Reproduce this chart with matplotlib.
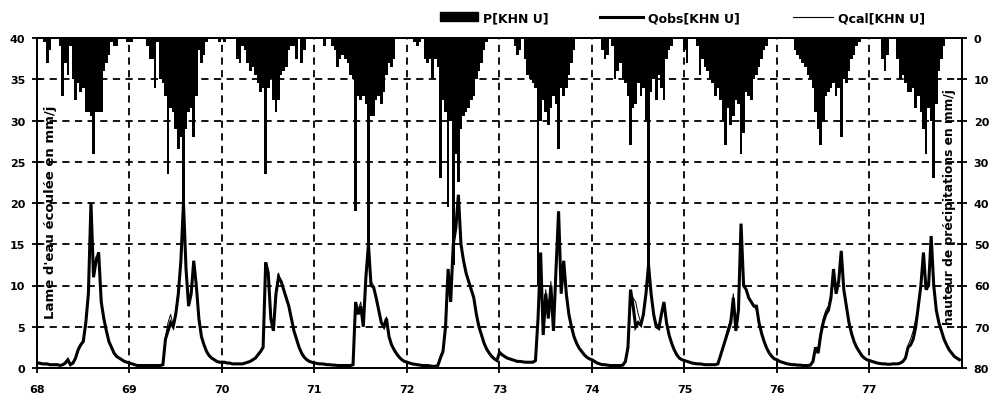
import matplotlib
matplotlib.use('Agg')
import matplotlib.pyplot as plt
import numpy as np
from matplotlib.patches import Patch
from matplotlib.lines import Line2D

plt.rcParams['font.family'] = ['DejaVu Sans']
plt.rcParams['font.weight'] = 'bold'

# dekadal series (36 values per hydrological year), years 68 .. 77
years = list(range(68, 78))
steps_per_year = 36

qobs = [
    # 68
    0.6, 0.6, 0.5, 0.5, 0.5, 0.4, 0.4, 0.4, 0.4, 0.3, 0.4, 0.6, 1.0, 0.4, 0.6, 1.2, 2.2, 2.8,
    3.2, 5.5, 9, 20, 11, 13, 14, 8, 6, 4.5, 3.2, 2.5, 1.8, 1.4, 1.2, 1.0, 0.8, 0.7,
    # 69
    0.6, 0.5, 0.4, 0.3, 0.3, 0.3, 0.3, 0.3, 0.3, 0.3, 0.3, 0.3, 0.3, 0.4, 3.5, 4.5, 5.5, 5.0,
    6.5, 9, 13, 20, 12, 7.5, 9, 13, 10, 6, 3.8, 2.8, 2.0, 1.5, 1.2, 1.0, 0.8, 0.7,
    # 70
    0.7, 0.7, 0.6, 0.6, 0.5, 0.5, 0.5, 0.5, 0.5, 0.6, 0.7, 0.8, 1.0, 1.2, 1.6, 2.0, 2.5, 12.8,
    11.5, 6, 4.5, 9, 11, 10.5, 9.5, 8.5, 7.5, 6, 4.5, 3.5, 2.5, 1.8, 1.3, 1.0, 0.8, 0.7,
    # 71
    0.6, 0.55, 0.5, 0.5, 0.45, 0.4, 0.4, 0.35, 0.35, 0.3, 0.3, 0.3, 0.3, 0.3, 0.3, 0.4, 8, 6.5,
    7.5, 5, 11, 15, 10, 9.8, 8.5, 7, 5.5, 5, 6, 3.8, 2.8, 2.2, 1.7, 1.3, 1.0, 0.8,
    # 72
    0.7, 0.6, 0.5, 0.45, 0.4, 0.35, 0.3, 0.3, 0.3, 0.25, 0.2, 0.2, 0.3, 1.2, 2.0, 5, 12, 8,
    15, 17, 21, 15, 13, 11.5, 10.5, 9.5, 8.5, 6.5, 5, 4, 3.0, 2.3, 1.8, 1.4, 1.1, 0.9,
    # 73
    1.9, 1.6, 1.4, 1.2, 1.1, 1.0, 0.9, 0.8, 0.8, 0.75, 0.7, 0.7, 0.7, 0.7, 0.9, 6, 14, 4,
    9, 6, 10, 4.5, 12, 19, 9, 13, 9, 6.5, 5, 3.8, 3, 2.4, 2.0, 1.6, 1.3, 1.1,
    # 74
    1.0, 0.8, 0.6, 0.5, 0.4, 0.4, 0.35, 0.3, 0.3, 0.3, 0.3, 0.3, 0.35, 0.8, 2.5, 9.5, 7.5, 5,
    5.5, 5.2, 6.5, 9, 12.5, 9, 6.5, 5, 4.8, 6.5, 8, 5.5, 4, 3, 2.2, 1.6, 1.2, 1.0,
    # 75
    0.9, 0.8, 0.7, 0.6, 0.55, 0.5, 0.5, 0.45, 0.4, 0.4, 0.4, 0.4, 0.4, 0.5, 1.5, 2.5, 3.5, 4.5,
    5.5, 8.5, 4.5, 7, 17.5, 10, 9.5, 8.5, 8, 7.5, 7.5, 5.5, 4.2, 3.2, 2.4, 1.8, 1.4, 1.1,
    # 76
    1.0, 0.8, 0.7, 0.6, 0.5, 0.45, 0.4, 0.4, 0.35, 0.35, 0.3, 0.3, 0.3, 0.35, 0.8, 2.5, 1.8, 4,
    5.5, 6.5, 7, 8.5, 12, 9, 10.5, 14.2, 9.5, 7.5, 5.5, 4.2, 3.2, 2.5, 2.0, 1.5, 1.2, 1.0,
    # 77
    0.9, 0.8, 0.7, 0.6, 0.55, 0.5, 0.5, 0.45, 0.45, 0.5, 0.5, 0.5, 0.6, 0.8, 1.2, 2.5, 2.8, 3.5,
    5, 7.5, 10, 14, 9.5, 10, 16, 10, 7, 5.5, 4.5, 3.5, 2.8, 2.2, 1.8, 1.4, 1.2, 1.0,
]

qcal = [
    # 68
    0.5, 0.5, 0.45, 0.4, 0.4, 0.35, 0.35, 0.3, 0.3, 0.3, 0.35, 0.5, 0.9, 0.5, 0.7, 1.3, 2.3, 2.9,
    3.4, 6, 9.5, 19, 12, 13.5, 13, 8.5, 6, 4.6, 3.3, 2.6, 1.9, 1.5, 1.2, 1.0, 0.8, 0.7,
    # 69
    0.6, 0.5, 0.4, 0.35, 0.3, 0.3, 0.3, 0.3, 0.3, 0.3, 0.3, 0.3, 0.3, 0.4, 3.8, 5.5, 6.5, 5.2,
    7, 9.5, 13.5, 19, 12.5, 8, 9.5, 12.5, 9.5, 6, 3.9, 2.9, 2.0, 1.5, 1.2, 1.0, 0.8, 0.7,
    # 70
    0.7, 0.6, 0.6, 0.55, 0.5, 0.5, 0.5, 0.5, 0.5, 0.6, 0.7, 0.8, 1.0, 1.3, 1.6, 2.1, 2.7, 12.5,
    11, 6.5, 5, 9.5, 11.5, 10.5, 9.5, 8.5, 7.5, 6, 4.5, 3.5, 2.5, 1.8, 1.3, 1.0, 0.8, 0.7,
    # 71
    0.6, 0.55, 0.5, 0.5, 0.45, 0.4, 0.4, 0.35, 0.35, 0.3, 0.3, 0.3, 0.3, 0.3, 0.3, 0.5, 7.5, 7,
    8, 5.5, 11.5, 14.5, 10.5, 10, 8.5, 7, 5.5, 5.2, 6.2, 3.8, 2.8, 2.2, 1.7, 1.3, 1.0, 0.8,
    # 72
    0.7, 0.6, 0.5, 0.45, 0.4, 0.35, 0.3, 0.3, 0.3, 0.25, 0.2, 0.2, 0.3, 1.5, 2.2, 5.5, 11, 8.5,
    14.5, 17.5, 20, 15.5, 13, 11.5, 10.5, 9.5, 8.5, 6.5, 5, 4, 3, 2.3, 1.8, 1.4, 1.1, 0.9,
    # 73
    1.9, 1.6, 1.4, 1.2, 1.1, 1.0, 0.9, 0.8, 0.8, 0.75, 0.7, 0.7, 0.7, 0.7, 1.0, 6.5, 13, 5,
    9.5, 6.5, 10.5, 5, 12, 18, 9.5, 12.5, 9, 6.5, 5, 3.8, 3, 2.4, 2.0, 1.6, 1.3, 1.1,
    # 74
    1.0, 0.8, 0.6, 0.5, 0.4, 0.4, 0.35, 0.3, 0.3, 0.3, 0.3, 0.3, 0.35, 1.0, 3, 9, 8.5, 8,
    6.5, 5.5, 6.5, 9, 12, 9, 6.5, 5.5, 5, 6.5, 7.5, 5.5, 4, 3, 2.2, 1.6, 1.2, 1.0,
    # 75
    0.9, 0.8, 0.7, 0.6, 0.55, 0.5, 0.5, 0.45, 0.4, 0.4, 0.4, 0.4, 0.4, 0.5, 1.6, 2.6, 3.8, 5,
    6, 9, 5.5, 7.5, 16.5, 10.5, 9.5, 8.5, 8, 7.5, 7, 5.5, 4.2, 3.2, 2.4, 1.8, 1.4, 1.1,
    # 76
    1.0, 0.8, 0.7, 0.6, 0.5, 0.45, 0.4, 0.4, 0.35, 0.35, 0.3, 0.3, 0.3, 0.4, 0.9, 2.4, 2.5, 4.5,
    6, 7, 7.5, 9, 11.5, 9.5, 10.5, 13.5, 9.5, 7.5, 5.5, 4.2, 3.2, 2.5, 2.0, 1.5, 1.2, 1.0,
    # 77
    0.9, 0.8, 0.7, 0.6, 0.55, 0.5, 0.5, 0.45, 0.45, 0.5, 0.5, 0.5, 0.6, 0.8, 1.3, 2.8, 3.5, 4.5,
    6, 7, 10.5, 13, 10, 10.5, 15, 10.5, 7, 5.5, 4.5, 3.5, 2.8, 2.2, 1.8, 1.4, 1.2, 1.0,
]

precip = [
    # 68
    0, 0, 0, 1, 6, 3, 0, 0, 0, 2, 14, 6, 9, 2, 10, 15, 11, 13,
    12, 18, 18, 19, 28, 18, 18, 18, 8, 6, 4, 1, 2, 2, 0, 0, 0, 1,
    # 69
    1, 1, 0, 0, 0, 0, 0, 2, 5, 5, 12, 1, 10, 11, 14, 33, 17, 18,
    22, 27, 24, 40, 22, 18, 17, 24, 14, 3, 6, 4, 1, 0, 0, 0, 0, 1,
    # 70
    0, 1, 0, 0, 0, 0, 5, 6, 2, 3, 6, 8, 7, 9, 11, 13, 12, 33,
    12, 10, 15, 18, 15, 9, 8, 7, 3, 2, 2, 5, 0, 6, 3, 0, 0, 0,
    # 71
    0, 0, 0, 0, 2, 0, 0, 2, 3, 7, 5, 4, 5, 6, 9, 10, 42, 14,
    15, 14, 16, 50, 19, 19, 15, 14, 16, 13, 9, 6, 7, 5, 0, 0, 0, 0,
    # 72
    0, 0, 0, 1, 2, 1, 0, 5, 6, 5, 10, 5, 7, 34, 15, 18, 41, 20,
    55, 28, 35, 22, 19, 18, 17, 15, 14, 10, 8, 6, 3, 1, 0, 0, 0, 0,
    # 73
    0, 0, 0, 0, 0, 0, 2, 4, 3, 0, 5, 9, 10, 11, 12, 60, 20, 15,
    18, 21, 17, 14, 16, 27, 12, 14, 12, 9, 6, 3, 0, 0, 0, 0, 0, 0,
    # 74
    0, 0, 0, 0, 3, 5, 4, 0, 2, 10, 8, 6, 10, 11, 14, 26, 17, 16,
    11, 14, 12, 20, 58, 13, 10, 15, 9, 12, 15, 5, 3, 2, 0, 0, 0, 0,
    # 75
    3, 6, 0, 0, 0, 2, 9, 5, 7, 8, 10, 11, 14, 12, 15, 20, 26, 17,
    21, 19, 15, 16, 28, 23, 13, 14, 15, 10, 9, 7, 5, 3, 2, 0, 0, 0,
    # 76
    0, 0, 0, 0, 0, 0, 0, 3, 4, 5, 6, 7, 9, 10, 12, 18, 22, 26,
    20, 14, 13, 12, 11, 14, 12, 24, 10, 11, 8, 5, 4, 2, 1, 0, 0, 0,
    # 77
    0, 0, 0, 0, 0, 5, 8, 4, 0, 0, 0, 5, 10, 9, 11, 13, 13, 12,
    17, 14, 18, 22, 28, 17, 20, 34, 16, 8, 5, 2, 0, 0, 0, 0, 0, 0,
]

q_ticks = [0, 5, 10, 15, 20, 25, 30, 35, 40]
p_ticks = [0, 10, 20, 30, 40, 50, 60, 70, 80]
legend_labels = ["P[KHN U]", "Qobs[KHN U]", "Qcal[KHN U]"]

t = years[0] + np.arange(len(qobs)) / steps_per_year

fig = plt.figure(figsize=(9.98, 4.02), dpi=100)
ax = fig.add_axes([37 / 998, 33 / 402, 925 / 998, 330 / 402])
ax2 = ax.twinx()

ax2.bar(t, precip, width=1 / steps_per_year, color='black', linewidth=0)
ax2.set_ylim(80, 0)
ax2.set_yticks(p_ticks)

ax.set_zorder(ax2.get_zorder() + 1)
ax.patch.set_visible(False)
ax.plot(t, qobs, color='black', lw=2.2, solid_joinstyle='miter')
ax.plot(t, qcal, color='black', lw=0.7)

ax.set_xlim(years[0], years[-1] + 1)
ax.set_ylim(0, 40)
ax.set_xticks(years)
ax.set_yticks(q_ticks)
ax.grid(True, color='black', linestyle=(0, (4, 3)), linewidth=1.3)

for a in (ax, ax2):
    for s in a.spines.values():
        s.set_linewidth(1.3)
    a.tick_params(direction='inout', length=7, width=1.3, labelsize=8, pad=5)
ax.tick_params(axis='x', pad=8)

ax.text(0.008, 0.475, "Lame d'eau écoulée en mm/j", rotation=90, transform=ax.transAxes,
        ha='left', va='center', fontsize=9.5, fontweight='bold')
ax.text(0.993, 0.49, "hauteur de précipitations en mm/j", rotation=90, transform=ax.transAxes,
        ha='right', va='center', fontsize=8.8, fontweight='bold')

# one legend entry per call so each can sit where the original has it
handles = [Patch(facecolor='black', edgecolor='black'),
           Line2D([0], [0], color='black', lw=2.2),
           Line2D([0], [0], color='black', lw=0.8)]
legend_x = [429, 589, 782]
handle_len = [3.0, 3.4, 3.2]
for h, lab, x, hl in zip(handles, legend_labels, legend_x, handle_len):
    fig.legend([h], [lab], loc='upper left', bbox_to_anchor=(x / 998, 0.998),
               frameon=False, handlelength=hl, handletextpad=0.4,
               prop={'size': 9, 'weight': 'bold'})

fig.savefig('out.png', dpi=100)
